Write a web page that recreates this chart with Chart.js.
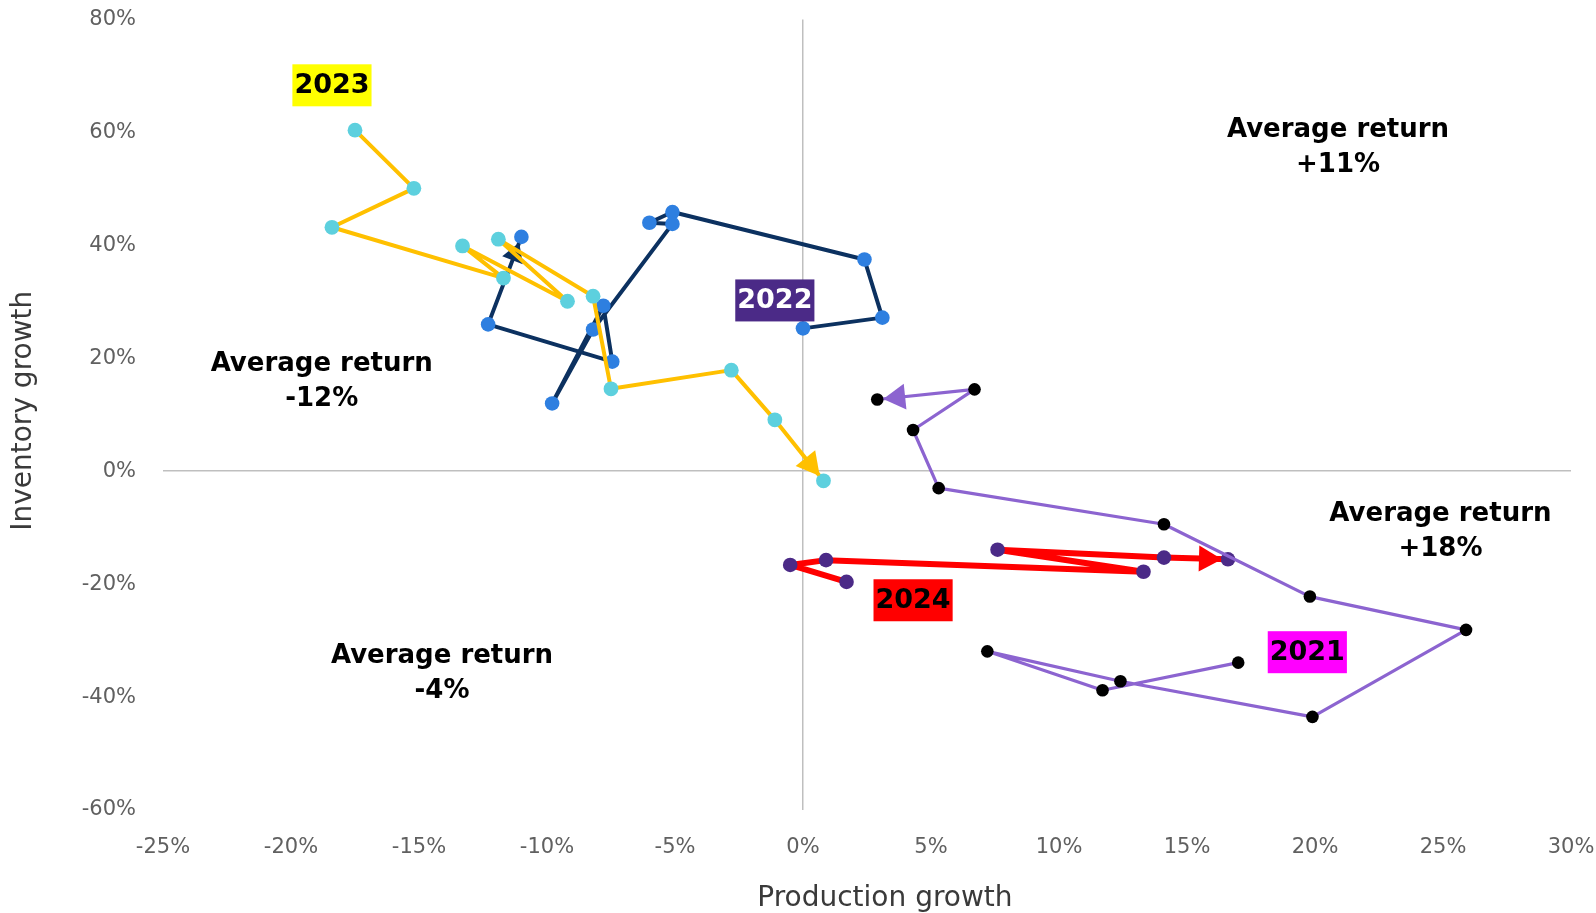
<!DOCTYPE html>
<html>
<head>
<meta charset="utf-8">
<title>Production vs inventory growth</title>
<script src="https://cdn.jsdelivr.net/npm/chart.js@4.4.1/dist/chart.umd.min.js"></script>
<style>
  html, body { margin: 0; padding: 0; background: #fff; }
  canvas { display: block; }
</style>
</head>
<body>
<canvas id="cycleChart" width="1596" height="913"></canvas>
<script>
// monthly production growth (x) and inventory growth (y), in %
const prod2021 = [17.0, 11.7, 7.2, 12.4, 19.9, 25.9, 19.8, 14.1, 5.3, 4.3, 6.7, 2.9];
const inv2021 = [-33.9, -38.8, -31.9, -37.2, -43.5, -28.1, -22.2, -9.4, -3.0, 7.3, 14.5, 12.7];

const prod2022 = [0.0, 3.1, 2.4, -5.1, -6.0, -5.1, -8.2, -9.8, -7.8, -7.45, -12.3, -11.0];
const inv2022 = [25.3, 27.2, 37.5, 45.9, 44.0, 43.8, 25.1, 12.0, 29.3, 19.4, 26.0, 41.5];

const prod2023 = [-17.5, -15.2, -18.4, -11.7, -13.3, -9.2, -11.9, -8.2, -7.5, -2.8, -1.1, 0.8];
const inv2023 = [60.4, 50.1, 43.2, 34.2, 39.9, 30.1, 41.1, 31.0, 14.6, 17.9, 9.1, -1.7];

const prod2024 = [1.7, -0.5, 0.9, 13.3, 7.6, 14.1, 16.6];
const inv2024 = [-19.6, -16.6, -15.75, -17.8, -13.9, -15.3, -15.6];

const xTicks = [-25, -20, -15, -10, -5, 0, 5, 10, 15, 20, 25, 30];
const yTicks = [-60, -40, -20, 0, 20, 40, 60, 80];

const toPoints = (xs, ys) => xs.map((x, i) => ({ x, y: ys[i] }));

// year tags and quadrant notes, placed in axis units
const yearTags = [
  { text: "2023", x: -18.4, y: 68.7, bg: "#ffff00", color: "#000000" },
  { text: "2022", x: -1.1, y: 30.6, bg: "#4b2a87", color: "#ffffff" },
  { text: "2024", x: 4.3, y: -22.5, bg: "#ff0000", color: "#000000" },
  { text: "2021", x: 19.7, y: -31.7, bg: "#ff00ff", color: "#000000" },
];
const returnNotes = [
  { lines: ["Average return", "+11%"], x: 20.9, y: 60.9 },
  { lines: ["Average return", "-12%"], x: -18.8, y: 19.5 },
  { lines: ["Average return", "+18%"], x: 24.9, y: -7.1 },
  { lines: ["Average return", "-4%"], x: -14.1, y: -32.3 },
];

const NOTE_FONT = "bold 26px 'DejaVu Sans', sans-serif";
const TAG_FONT = "bold 27px 'DejaVu Sans', sans-serif";
const TICK_FONT = { family: "'DejaVu Sans', sans-serif", size: 21 };

const arrowHeads = {
  id: "arrowHeads",
  afterDatasetDraw(chart, args) {
    const ds = chart.data.datasets[args.index];
    const pts = args.meta.data;
    if (!ds.arrow || pts.length < 2) return;
    const a = pts[pts.length - 2];
    const b = pts[pts.length - 1];
    const ang = Math.atan2(b.y - a.y, b.x - a.x);
    const cos = Math.cos(ang), sin = Math.sin(ang);
    const { length, half, gap } = ds.arrow;
    const tipX = b.x - cos * gap, tipY = b.y - sin * gap;
    const bx = tipX - cos * length, by = tipY - sin * length;
    const ctx = chart.ctx;
    ctx.save();
    ctx.fillStyle = ds.borderColor;
    ctx.beginPath();
    ctx.moveTo(tipX, tipY);
    ctx.lineTo(bx - sin * half, by + cos * half);
    ctx.lineTo(bx + sin * half, by - cos * half);
    ctx.closePath();
    ctx.fill();
    ctx.restore();
  },
};

const chartText = {
  id: "chartText",
  afterDraw(chart) {
    const { ctx, scales, chartArea } = chart;
    const sx = scales.x, sy = scales.y;
    ctx.save();
    ctx.textAlign = "center";
    ctx.textBaseline = "middle";

    ctx.font = TAG_FONT;
    yearTags.forEach((t) => {
      const cx = sx.getPixelForValue(t.x);
      const cy = sy.getPixelForValue(t.y) + 2;
      const w = ctx.measureText(t.text).width + 4;
      const h = 42;
      ctx.fillStyle = t.bg;
      ctx.fillRect(cx - w / 2, cy - h / 2, w, h);
      ctx.fillStyle = t.color;
      ctx.fillText(t.text, cx, cy + 1);
    });

    ctx.font = NOTE_FONT;
    ctx.fillStyle = "#000000";
    returnNotes.forEach((n) => {
      const cx = sx.getPixelForValue(n.x);
      const cy = sy.getPixelForValue(n.y) + 3;
      n.lines.forEach((line, i) => ctx.fillText(line, cx, cy + i * 35));
    });

    // axis titles
    ctx.font = "28px 'DejaVu Sans', sans-serif";
    ctx.fillStyle = "#3a3a3a";
    ctx.fillText("Production growth", sx.getPixelForValue(3.2), 899);
    ctx.translate(24, (chartArea.top + chartArea.bottom) / 2 - 4);
    ctx.rotate(-Math.PI / 2);
    ctx.fillText("Inventory growth", 0, 0);
    ctx.restore();
  },
};

const zeroLine = (c) => (c.tick && c.tick.value === 0 ? "#bfbfbf" : "rgba(0,0,0,0)");

new Chart(document.getElementById("cycleChart"), {
  type: "scatter",
  data: {
    datasets: [
      {
        label: "2021",
        data: toPoints(prod2021, inv2021),
        showLine: true,
        borderColor: "#8c64d0",
        borderWidth: 3.2,
        borderJoinStyle: "round",
        pointBackgroundColor: "#000000",
        pointBorderWidth: 0,
        pointRadius: 6.3,
        order: 1,
        arrow: { length: 22, half: 13, gap: 6 },
      },
      {
        label: "2024",
        data: toPoints(prod2024, inv2024),
        showLine: true,
        borderColor: "#ff0000",
        borderWidth: 6,
        borderJoinStyle: "round",
        pointBackgroundColor: "#4b2a87",
        pointBorderWidth: 0,
        pointRadius: 7.3,
        order: 2,
        arrow: { length: 23, half: 13, gap: 6 },
      },
      {
        label: "2023",
        data: toPoints(prod2023, inv2023),
        showLine: true,
        borderColor: "#ffc000",
        borderWidth: 4,
        borderJoinStyle: "round",
        pointBackgroundColor: "#5dd0de",
        pointBorderWidth: 0,
        pointRadius: 7.4,
        order: 3,
        arrow: { length: 23, half: 12.5, gap: 6 },
      },
      {
        label: "2022",
        data: toPoints(prod2022, inv2022),
        showLine: true,
        borderColor: "#0c3160",
        borderWidth: 4,
        borderJoinStyle: "round",
        pointBackgroundColor: "#2e7fe0",
        pointBorderWidth: 0,
        pointRadius: 7.3,
        order: 4,
        arrow: { length: 19, half: 11, gap: 6 },
      },
    ],
  },
  options: {
    responsive: false,
    animation: false,
    devicePixelRatio: 1,
    layout: { padding: { top: 19.5, right: 25, left: 0, bottom: 0 } },
    plugins: {
      legend: { display: false },
      tooltip: { enabled: false },
    },
    scales: {
      x: {
        type: "linear",
        min: -25,
        max: 30,
        afterFit: (s) => {
          s.height = 103;
          s.paddingLeft = 0;
          s.paddingRight = 0;
        },
        afterBuildTicks: (s) => { s.ticks = xTicks.map((v) => ({ value: v })); },
        border: { display: false },
        grid: { color: zeroLine, drawTicks: false, lineWidth: 1.5 },
        ticks: {
          padding: 25,
          color: "#606060",
          font: TICK_FONT,
          maxRotation: 0,
          callback: (v) => v + "%",
        },
      },
      y: {
        type: "linear",
        min: -60,
        max: 80,
        afterFit: (s) => {
          s.width = 163;
          s.paddingTop = 0;
          s.paddingBottom = 0;
        },
        afterBuildTicks: (s) => { s.ticks = yTicks.map((v) => ({ value: v })); },
        border: { display: false },
        grid: { color: zeroLine, drawTicks: false, lineWidth: 1.5 },
        ticks: {
          padding: 27,
          color: "#606060",
          font: TICK_FONT,
          callback: (v) => v + "%",
        },
      },
    },
  },
  plugins: [arrowHeads, chartText],
});
</script>
</body>
</html>
